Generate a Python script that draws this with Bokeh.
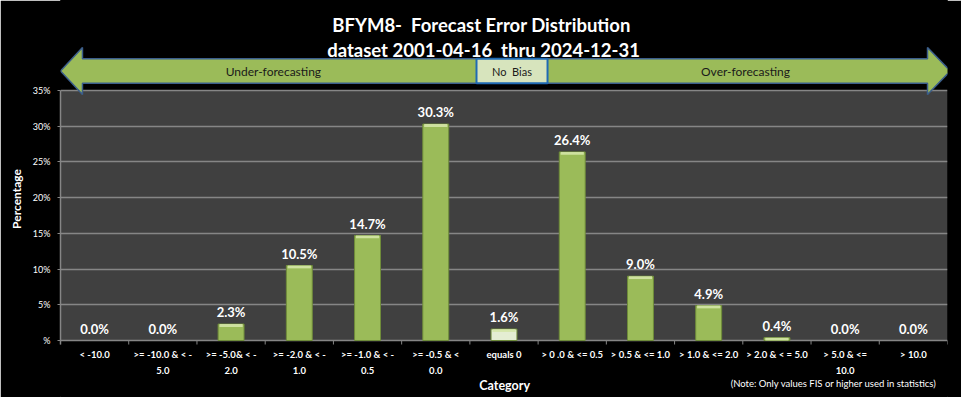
from bokeh.plotting import figure
from bokeh.models import FactorRange, Range1d, FixedTicker, ColumnDataSource
from bokeh.core.properties import value
from bokeh.embed import file_html
from bokeh.resources import INLINE

# ---------------- data ----------------
categories = [
    "< -10.0",
    ">= -10.0 & < -\n5.0",
    ">= -5.0& < -\n2.0",
    ">= -2.0 & < -\n1.0",
    ">= -1.0 & < -\n0.5",
    ">= -0.5 & <\n0.0",
    "equals 0",
    "> 0 .0 & <= 0.5",
    "> 0.5 & <= 1.0",
    "> 1.0 & <= 2.0",
    "> 2.0 & < = 5.0",
    "> 5.0 & <=\n10.0",
    "> 10.0",
]
percentages = [0.0, 0.0, 2.3, 10.5, 14.7, 30.3, 1.6, 26.4, 9.0, 4.9, 0.4, 0.0, 0.0]
ytick_values = [0, 5, 10, 15, 20, 25, 30, 35]
ytick_labels = ["%", "5%", "10%", "15%", "20%", "25%", "30%", "35%"]
title_lines = ["BFYM8-\u00a0 Forecast Error Distribution", "dataset 2001-04-16\u00a0 thru 2024-12-31"]
zone_labels = ["Under-forecasting", "No\u00a0 Bias", "Over-forecasting"]
x_title = "Category"
note_text = "(Note: Only values FIS or higher used in statistics)"

FONT = "Lato"
GREEN = "#9bbb59"
GRID = "#868686"

bar_colors = ["#e4edd2" if c == "equals 0" else GREEN for c in categories]
src = ColumnDataSource(dict(
    cat=categories,
    pct=percentages,
    color=bar_colors,
    edge_alpha=[1.0 if v > 0 else 0.0 for v in percentages],
    label=[f"{v:.1f}%" for v in percentages],
    hi_bottom=[max(v - 0.4, 0) for v in percentages],
))

n = len(categories)
y_top = ytick_values[-1]

p = figure(
    x_range=FactorRange(*categories, range_padding=0),
    y_range=Range1d(-7.98, 47.6),
    width=961, height=397,
    output_backend="svg", toolbar_location=None,
    min_border_left=60, min_border_right=14, min_border_top=0, min_border_bottom=0,
    background_fill_color="black", border_fill_color="black",
    outline_line_color="black", outline_line_alpha=1.0, outline_line_width=1,
)

# plot area background
p.quad(left=[0], right=[n], bottom=[0], top=[y_top], fill_color="#404040",
       line_color=None, level="image")

# grid / axes
ticker = FixedTicker(ticks=ytick_values)
p.xgrid.visible = False
p.ygrid.ticker = ticker
p.ygrid.grid_line_color = GRID
p.ygrid.grid_line_width = 1.5

p.yaxis.ticker = ticker
p.yaxis.bounds = (-0.56, y_top)
p.yaxis.major_label_overrides = {v: l for v, l in zip(ytick_values, ytick_labels)}
p.yaxis.axis_line_color = GRID
p.yaxis.axis_line_width = 1.5
p.yaxis.major_tick_line_color = GRID
p.yaxis.major_tick_out = 3
p.yaxis.major_tick_in = 0
p.yaxis.minor_tick_line_color = None
p.yaxis.major_label_text_color = "white"
p.yaxis.major_label_text_font = FONT
p.yaxis.major_label_text_font_size = "9px"
p.yaxis.major_label_standoff = 7
p.yaxis.axis_label = "Percentage"
p.yaxis.axis_label_text_font = FONT
p.yaxis.axis_label_text_font_style = "bold"
p.yaxis.axis_label_text_font_size = "12px"
p.yaxis.axis_label_text_color = "white"
p.yaxis.axis_label_standoff = 6

p.xaxis.visible = False

# category boundary ticks and category labels
p.segment(x0=list(range(n + 1)), y0=[0] * (n + 1), x1=list(range(n + 1)), y1=[-0.56] * (n + 1),
          line_color=GRID, line_width=1)
p.text(x=categories, y=[-1.2] * n, text=categories, text_align="center",
       text_baseline="top", text_color="white", text_font=value(FONT),
       text_font_style="bold", text_font_size="9.5px", text_line_height=1.45)

# bars
p.vbar(x="cat", top="pct", width=0.38, fill_color="color", line_color="#6f8c3a",
       line_alpha="edge_alpha", line_width=1, source=src)
p.vbar(x="cat", top="pct", bottom="hi_bottom", width=0.34, fill_color="#d4e6a6",
       line_color=None, fill_alpha=0.9, source=src)
p.text(x="cat", y="pct", text="label", y_offset=-12, text_align="center",
       text_baseline="middle", text_color="white", text_font=value(FONT),
       text_font_style="bold", text_font_size="13px", source=src)

# title
p.text(x=[6.17, 6.2], y=[44.24, 40.74], text=title_lines, text_align="center",
       text_baseline="middle", text_color="white", text_font=value(FONT),
       text_font_style="bold", text_font_size="18.5px")

# double arrow
ax = [0.0, 0.322, 0.322, 12.707, 12.707, 13.04, 12.707, 12.707, 0.322, 0.322]
ay = [37.73, 41.02, 39.44, 39.44, 41.02, 37.73, 34.44, 36.02, 36.02, 34.44]
p.patch(ax, ay, fill_color=GREEN, line_color="#3b5e8c", line_width=1.5)
p.quad(left=[6.097], right=[7.138], bottom=[36.02], top=[39.44], fill_color="#d7e4bd",
       line_color="#1f6ab4", line_width=2)
p.text(x=[3.12, 10.04], y=[37.73, 37.73], text=[zone_labels[0], zone_labels[2]],
       text_align="center", text_baseline="middle", text_color="#1a1a1a",
       text_font=value(FONT), text_font_size="12px")
p.text(x=[6.617], y=[37.73], text=[zone_labels[1]], text_align="center",
       text_baseline="middle", text_color="#1a1a1a", text_font=value(FONT),
       text_font_size="11px")

# bottom texts
p.text(x=[6.51], y=[-6.3], text=[x_title], text_align="center",
       text_baseline="middle", text_color="white", text_font=value(FONT),
       text_font_style="bold", text_font_size="12.5px")
p.text(x=[12.84], y=[-6.02], text=[note_text], text_align="right",
       text_baseline="middle", text_color="white", text_font=value(FONT),
       text_font_size="9.5px")

open("out.html", "w").write(file_html(p, INLINE))
